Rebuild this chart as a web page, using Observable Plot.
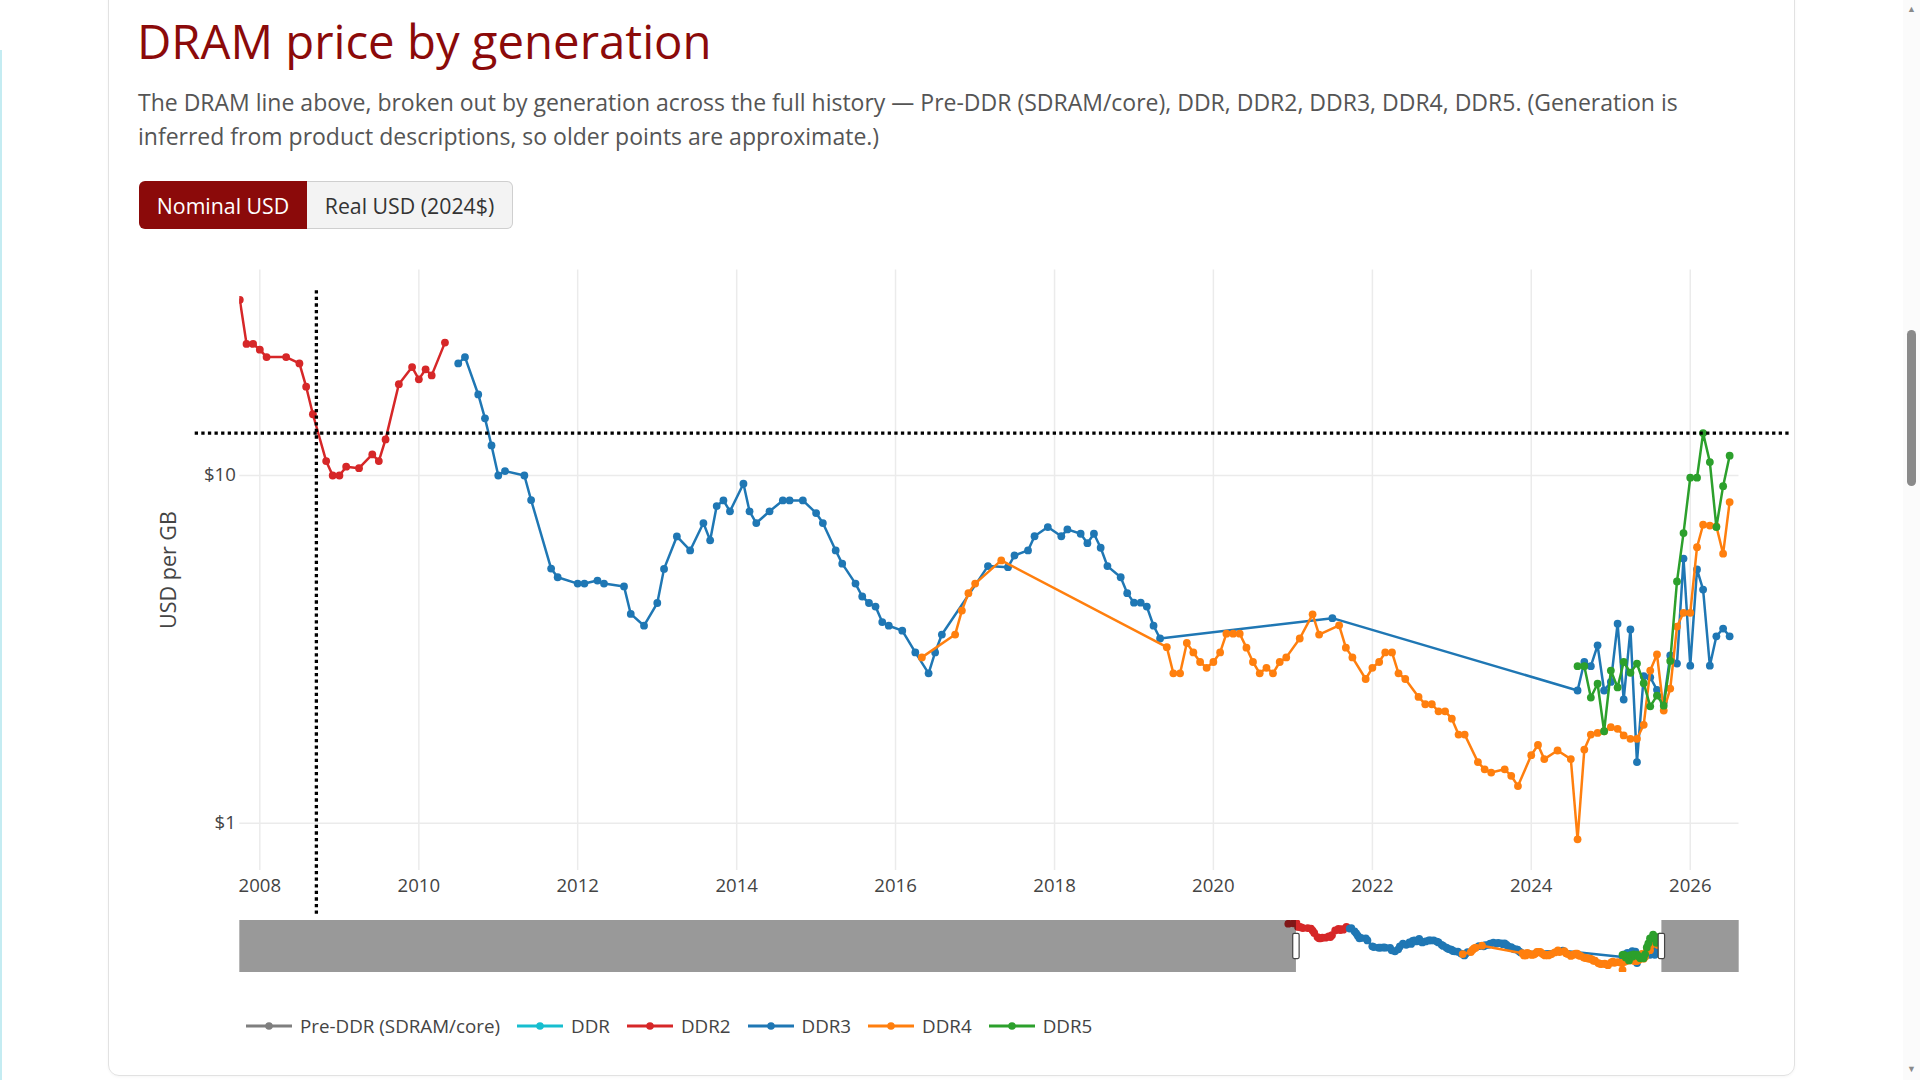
<!DOCTYPE html>
<html>
<head>
<meta charset="utf-8">
<script src="https://cdn.jsdelivr.net/npm/d3@7"></script>
<script src="https://cdn.jsdelivr.net/npm/@observablehq/plot@0.6"></script>
<style>
  html, body { margin: 0; padding: 0; }
  body { width: 1920px; height: 1080px; overflow: hidden; background: #fff; font-family: "Open Sans", sans-serif; position: relative; }
  .card { position: absolute; left: 108px; top: -30px; width: 1687px; height: 1106px; box-sizing: border-box; border: 1px solid #e2e2e2; border-radius: 11px; box-shadow: 0 1px 3px rgba(0,0,0,0.04); }
  .leftline { position: absolute; left: 0; top: 50px; width: 2px; height: 1030px; background: #c4ecf2; }
  h1 { position: absolute; left: 137px; top: 17px; margin: 0; font-weight: 400; font-size: 47.3px; line-height: 47px; color: #8b0a0a; white-space: nowrap; letter-spacing: 0; }
  .sub { position: absolute; left: 138px; top: 84.5px; margin: 0; font-size: 23.0px; line-height: 34.3px; color: #555; white-space: nowrap; }
  .btns { position: absolute; left: 139px; top: 181px; height: 48px; display: flex; }
  .btn { box-sizing: border-box; height: 48px; display: flex; align-items: center; justify-content: center; font-size: 21.3px; }
  .btn.on { width: 168px; background: #8b0a0a; color: #fff; border-radius: 6px 0 0 6px; }
  .btn.off { width: 206px; background: #f3f3f3; color: #333; border: 1px solid #cfcfcf; border-left: none; border-radius: 0 6px 6px 0; }
  #chart { position: absolute; left: 140px; top: 250px; width: 1660px; }
  #slider { position: absolute; left: 140px; top: 920px; width: 1660px; }
  .ylabel { position: absolute; left: 166.7px; top: 570px; transform: translate(-50%, -50%) rotate(-90deg); font-size: 21.5px; color: #444; white-space: nowrap; }
  .legend { position: absolute; left: 246px; top: 1012px; height: 28px; display: flex; align-items: center; font-size: 18.8px; color: #444; }
  .legend .item { display: flex; align-items: center; margin-right: 17px; }
  .legend svg { margin-right: 8px; }
  .scroll { position: absolute; right: 0; top: 0; width: 17px; height: 1080px; background: #fbfbfb; }
  .thumb { position: absolute; left: 4px; top: 330px; width: 9px; height: 156px; background: #8a8a8a; border-radius: 5px; }
  .arrow { position: absolute; left: 4px; font-size: 9px; color: #8a8a8a; line-height: 10px; }
</style>
</head>
<body>
<div class="leftline"></div>
<div class="card"></div>
<h1>DRAM price by generation</h1>
<p class="sub">The DRAM line above, broken out by generation across the full history — Pre-DDR (SDRAM/core), DDR, DDR2, DDR3, DDR4, DDR5. (Generation is<br>inferred from product descriptions, so older points are approximate.)</p>
<div class="btns"><div class="btn on">Nominal USD</div><div class="btn off">Real USD (2024$)</div></div>
<div id="chart"></div>
<div id="slider"></div>
<div class="ylabel">USD per GB</div>
<div class="legend" id="legend"></div>
<div class="scroll"><div class="arrow" style="top:4px">▲</div><div class="thumb"></div><div class="arrow" style="top:1064px">▼</div></div>
<script>
// ---------- data (USD per GB, monthly) ----------
const generations = ["Pre-DDR (SDRAM/core)", "DDR", "DDR2", "DDR3", "DDR4", "DDR5"];
const genColors = ["#7f7f7f", "#17becf", "#d62728", "#1f77b4", "#ff7f0e", "#2ca02c"];

const preDdr = [];
const ddr = [];
const ddr2 = [
  ["2007-05", 30.5], ["2007-08", 31.5],
  ["2007-10", 32.0], ["2007-11", 23.9], ["2007-12", 23.9], ["2008-01", 23.0], ["2008-02", 21.9],
  ["2008-05", 21.9], ["2008-07", 21.0], ["2008-08", 18.0], ["2008-09", 15.0], ["2008-11", 11.0],
  ["2008-12", 10.0], ["2009-01", 10.0], ["2009-02", 10.6], ["2009-04", 10.5], ["2009-06", 11.5],
  ["2009-07", 11.0], ["2009-08", 12.7], ["2009-10", 18.3], ["2009-12", 20.5], ["2010-01", 18.9],
  ["2010-02", 20.2], ["2010-03", 19.4], ["2010-05", 24.1]
];
const ddr3 = [
  ["2010-07", 21.0], ["2010-08", 21.9], ["2010-10", 17.1], ["2010-11", 14.6], ["2010-12", 12.2],
  ["2011-01", 10.0], ["2011-02", 10.3], ["2011-05", 10.0], ["2011-06", 8.5], ["2011-09", 5.4],
  ["2011-10", 5.1], ["2012-01", 4.89], ["2012-02", 4.89], ["2012-04", 4.99], ["2012-05", 4.89],
  ["2012-08", 4.80], ["2012-09", 4.00], ["2012-11", 3.70], ["2013-01", 4.30], ["2013-02", 5.39],
  ["2013-04", 6.68], ["2013-06", 6.09], ["2013-08", 7.30], ["2013-09", 6.51], ["2013-10", 8.17],
  ["2013-11", 8.48], ["2013-12", 7.89], ["2014-02", 9.47], ["2014-03", 7.89], ["2014-04", 7.30],
  ["2014-06", 7.89], ["2014-08", 8.48], ["2014-09", 8.48], ["2014-11", 8.48], ["2015-01", 7.80],
  ["2015-02", 7.30], ["2015-04", 6.09], ["2015-05", 5.58], ["2015-07", 4.89], ["2015-08", 4.49],
  ["2015-09", 4.30], ["2015-10", 4.20], ["2015-11", 3.79], ["2015-12", 3.70], ["2016-02", 3.58],
  ["2016-04", 3.10], ["2016-06", 2.70], ["2016-07", 3.10], ["2016-08", 3.49], ["2017-03", 5.49],
  ["2017-06", 5.45], ["2017-07", 5.89], ["2017-09", 6.09], ["2017-10", 6.69], ["2017-12", 7.11],
  ["2018-02", 6.69], ["2018-03", 7.00], ["2018-05", 6.80], ["2018-06", 6.39], ["2018-07", 6.80],
  ["2018-08", 6.20], ["2018-09", 5.49], ["2018-11", 5.10], ["2018-12", 4.59], ["2019-01", 4.31],
  ["2019-02", 4.31], ["2019-03", 4.20], ["2019-04", 3.70], ["2019-05", 3.40], ["2021-07", 3.89],
  ["2024-08", 2.41], ["2024-09", 2.91], ["2024-10", 2.83], ["2024-11", 3.25], ["2024-12", 2.41],
  ["2025-01", 2.55], ["2025-02", 3.75], ["2025-03", 2.27], ["2025-04", 3.61], ["2025-05", 1.50],
  ["2025-06", 2.65], ["2025-07", 2.63], ["2025-08", 2.42], ["2025-09", 2.23], ["2025-10", 3.04],
  ["2025-11", 2.88], ["2025-12", 5.77], ["2026-01", 2.84], ["2026-02", 5.37], ["2026-03", 4.70],
  ["2026-04", 2.84], ["2026-05", 3.45], ["2026-06", 3.63], ["2026-07", 3.45]
];
const ddr4 = [
  ["2016-05", 3.00], ["2016-10", 3.49], ["2016-11", 4.09], ["2016-12", 4.59], ["2017-01", 4.89],
  ["2017-05", 5.70], ["2019-06", 3.21], ["2019-07", 2.70], ["2019-08", 2.70], ["2019-09", 3.30],
  ["2019-10", 3.10], ["2019-11", 2.91], ["2019-12", 2.80], ["2020-01", 2.91], ["2020-02", 3.10],
  ["2020-03", 3.51], ["2020-04", 3.51], ["2020-05", 3.51], ["2020-06", 3.20], ["2020-07", 2.91],
  ["2020-08", 2.70], ["2020-09", 2.80], ["2020-10", 2.70], ["2020-11", 2.91], ["2020-12", 3.00],
  ["2021-02", 3.40], ["2021-04", 3.99], ["2021-05", 3.49], ["2021-08", 3.71], ["2021-09", 3.20],
  ["2021-10", 3.00], ["2021-12", 2.60], ["2022-01", 2.80], ["2022-02", 2.91], ["2022-03", 3.10],
  ["2022-04", 3.10], ["2022-05", 2.70], ["2022-06", 2.60], ["2022-08", 2.31], ["2022-09", 2.20],
  ["2022-10", 2.20], ["2022-11", 2.10], ["2022-12", 2.10], ["2023-01", 2.00], ["2023-02", 1.80],
  ["2023-03", 1.80], ["2023-05", 1.50], ["2023-06", 1.43], ["2023-07", 1.40], ["2023-09", 1.43],
  ["2023-10", 1.37], ["2023-11", 1.28], ["2024-01", 1.57], ["2024-02", 1.68], ["2024-03", 1.53],
  ["2024-05", 1.62], ["2024-07", 1.53], ["2024-08", 0.90], ["2024-09", 1.63], ["2024-10", 1.80],
  ["2024-11", 1.82], ["2024-12", 1.84], ["2025-01", 1.89], ["2025-02", 1.87], ["2025-03", 1.79],
  ["2025-04", 1.75], ["2025-05", 1.75], ["2025-06", 1.92], ["2025-07", 2.75], ["2025-08", 3.06],
  ["2025-09", 2.11], ["2025-10", 2.44], ["2025-11", 3.68], ["2025-12", 4.03], ["2026-01", 4.03],
  ["2026-02", 6.22], ["2026-03", 7.22], ["2026-04", 7.18], ["2026-05", 7.14], ["2026-06", 5.96],
  ["2026-07", 8.39]
];
const ddr5 = [
  ["2024-08", 2.83], ["2024-09", 2.83], ["2024-10", 2.30], ["2024-11", 2.52], ["2024-12", 1.84],
  ["2025-01", 2.75], ["2025-02", 2.46], ["2025-03", 2.91], ["2025-04", 2.71], ["2025-05", 2.88],
  ["2025-06", 2.53], ["2025-07", 2.17], ["2025-08", 2.33], ["2025-09", 2.18], ["2025-10", 2.93],
  ["2025-11", 4.96], ["2025-12", 6.83], ["2026-01", 9.86], ["2026-02", 9.86], ["2026-03", 13.24],
  ["2026-04", 10.93], ["2026-05", 7.11], ["2026-06", 9.32], ["2026-07", 11.4]
];
const seriesList = [preDdr, ddr, ddr2, ddr3, ddr4, ddr5];

// axis ticks / ranges
const xTickYears = [2008, 2010, 2012, 2014, 2016, 2018, 2020, 2022, 2024, 2026];
const yTicks = [1, 10];
const xRange = ["2007-10-01", "2026-08-13"];       // visible window
const sliderRange = ["1953-03-14", "2030-08-10"];  // range-slider full extent
const yRange = [0.732, 39];
// hover spike-lines (dotted crosshair)
const spikeDate = "2008-09-17";
const spikeValue = 13.24;
const spikeYExtent = [34.0, 0.54];
const spikeXExtent = ["2007-03-10", "2027-04-06"];

// ---------- build ----------
const parseMonth = s => new Date(Date.UTC(+s.slice(0, 4), +s.slice(5, 7) - 1, s.length > 7 ? +s.slice(8, 10) : 1));
const rowsByGen = seriesList.map((arr, i) => arr.map(([d, v]) => ({gen: generations[i], date: parseMonth(d), price: v})));

function seriesMarks() {
  const marks = [];
  rowsByGen.forEach((rows, i) => {
    if (!rows.length) return;
    marks.push(Plot.line(rows, {x: "date", y: "price", stroke: genColors[i], strokeWidth: 2.5, clip: true}));
    marks.push(Plot.dot(rows, {x: "date", y: "price", fill: genColors[i], r: 3.9, clip: true}));
  });
  return marks;
}

const xTicks = xTickYears.map(y => new Date(Date.UTC(y, 0, 1)));
const gridColor = "#ebebeb";

const main = Plot.plot({
  width: 1660, height: 670,
  marginLeft: 99.3, marginRight: 61.5, marginTop: 19.4, marginBottom: 50,
  style: {fontFamily: "Open Sans, sans-serif", fontSize: "18.6px", color: "#444", background: "transparent", overflow: "visible"},
  x: {type: "utc", domain: xRange.map(parseMonth), ticks: xTicks, tickFormat: d3.utcFormat("%Y"), tickSize: 0, tickPadding: 8, label: null},
  y: {type: "log", domain: yRange, ticks: yTicks, tickFormat: d => "$" + d, tickSize: 0, tickPadding: 4, label: null},
  marks: [
    Plot.ruleX(xTicks, {stroke: gridColor, strokeWidth: 1.5}),
    Plot.ruleY(yTicks, {stroke: gridColor, strokeWidth: 1.5}),
    ...seriesMarks(),
    Plot.ruleX([parseMonth(spikeDate)], {y1: spikeYExtent[0], y2: spikeYExtent[1], stroke: "#000", strokeWidth: 3.3, strokeDasharray: "3.3,3.3", clip: false}),
    Plot.ruleY([spikeValue], {x1: parseMonth(spikeXExtent[0]), x2: parseMonth(spikeXExtent[1]), stroke: "#000", strokeWidth: 3.3, strokeDasharray: "3.3,3.3", clip: false})
  ]
});
document.getElementById("chart").appendChild(main);

const winStart = parseMonth(xRange[0]), winEnd = parseMonth(xRange[1]);
const sStart = parseMonth(sliderRange[0]), sEnd = parseMonth(sliderRange[1]);
const slider = Plot.plot({
  width: 1660, height: 52,
  marginLeft: 99.3, marginRight: 61.3, marginTop: 0, marginBottom: 0,
  style: {background: "transparent", overflow: "visible"},
  x: {type: "utc", domain: [sStart, sEnd], axis: null},
  y: {type: "log", domain: yRange, axis: null},
  marks: [
    ...seriesMarks(),
    Plot.rect([[sStart, winStart], [winEnd, sEnd]], {x1: d => d[0], x2: d => d[1], fill: "#000", fillOpacity: 0.4}),
    Plot.rect([winStart, winEnd], {x1: d => d, x2: d => d, insetLeft: -3.2, insetRight: -3.2, insetTop: 13.3, insetBottom: 13.4, fill: "#fff", stroke: "#444", strokeWidth: 1.2, rx: 1.5})
  ]
});
document.getElementById("slider").appendChild(slider);

// legend
const legend = document.getElementById("legend");
generations.forEach((g, i) => {
  const item = document.createElement("div");
  item.className = "item";
  item.innerHTML = `<svg width="46" height="20"><line x1="0" y1="10" x2="46" y2="10" stroke="${genColors[i]}" stroke-width="3"/><circle cx="23" cy="10" r="3.8" fill="${genColors[i]}"/></svg><span>${g}</span>`;
  legend.appendChild(item);
});
</script>
</body>
</html>
